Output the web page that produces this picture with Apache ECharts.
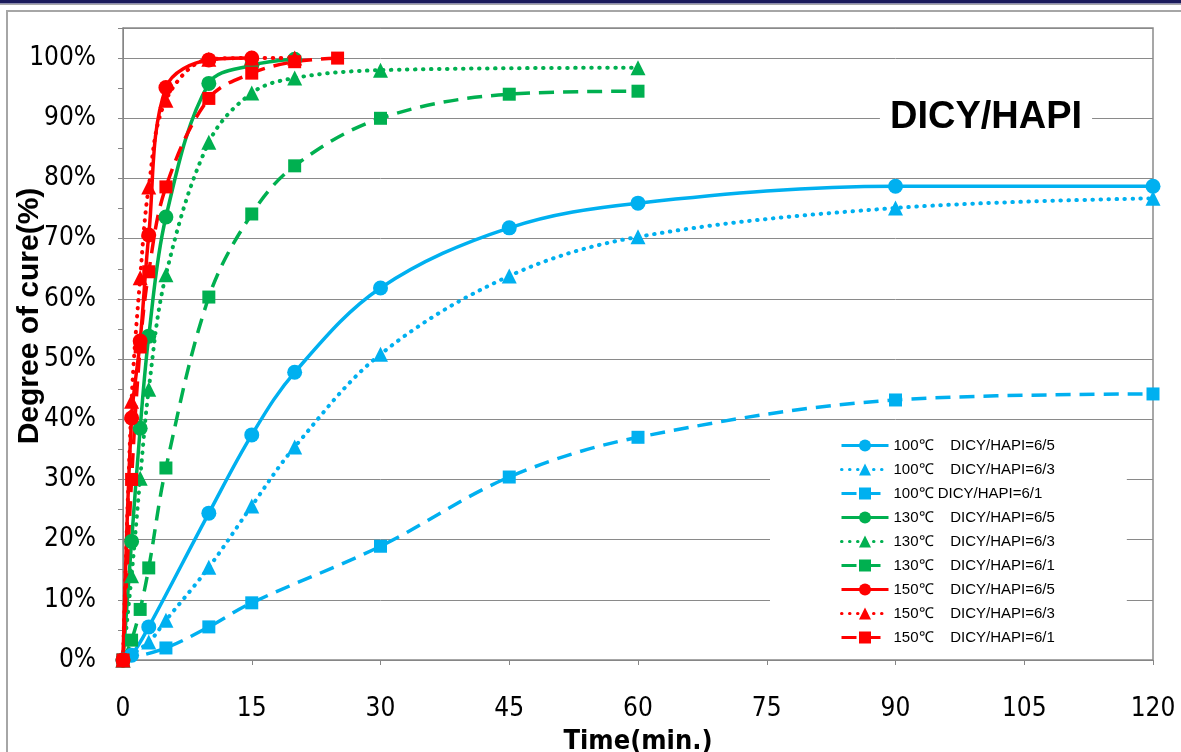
<!DOCTYPE html>
<html>
<head>
<meta charset="utf-8">
<script src="https://cdn.jsdelivr.net/npm/echarts@6/dist/echarts.min.js"></script>
<style>
  html, body { margin: 0; padding: 0; background: #fff; }
  #chart { width: 1181px; height: 752px; }
</style>
</head>
<body>
<div id="chart"></div>
<script>
// x ticks every 15 min, y ticks every 10 %
const xTicks = [0, 15, 30, 45, 60, 75, 90, 105, 120];

// 100 C
const t100a = [0, 1, 3, 10, 15, 20, 30, 45, 60, 90, 120];
const y100a = [0, 0.8, 5.5, 24.4, 37.4, 47.8, 61.8, 71.8, 75.9, 78.7, 78.7];
const t100b = [0, 3, 5, 10, 15, 20, 30, 45, 60, 90, 120];
const y100b = [0, 3, 6.6, 15.4, 25.6, 35.4, 50.8, 63.8, 70.3, 75.1, 76.7];
const t100c = [0, 5, 10, 15, 30, 45, 60, 90, 120];
const y100c = [0, 2, 5.5, 9.5, 18.9, 30.4, 37, 43.2, 44.2];

// 130 C
const t130a = [0, 1, 2, 3, 5, 10, 15, 20];
const y130a = [0, 19.7, 38.5, 53.8, 73.6, 95.8, 98.8, 99.8];
const t130b = [0, 1, 2, 3, 5, 10, 15, 20, 30, 60];
const y130b = [0, 14, 30.2, 45, 64, 86, 94.2, 96.7, 98, 98.4];
const t130c = [0, 1, 2, 3, 5, 10, 15, 20, 30, 45, 60];
const y130c = [0, 3.3, 8.4, 15.3, 31.9, 60.3, 74.1, 82.1, 90, 94, 94.5];

// 150 C
const t150a = [0, 1, 2, 3, 5, 10, 15];
const y150a = [0, 40.2, 53, 70.6, 95.1, 99.7, 100];
const t150b = [0, 1, 2, 3, 5, 10, 15, 20];
const y150b = [0, 43, 63.5, 78.6, 93, 99.8, 100, 100];
const t150c = [0, 1, 2, 3, 5, 10, 15, 20, 25];
const y150c = [0, 30, 52, 64.5, 78.6, 93.3, 97.5, 99.4, 100];

const names = [
  "100\u2103    DICY/HAPI=6/5",
  "100\u2103    DICY/HAPI=6/3",
  "100\u2103 DICY/HAPI=6/1",
  "130\u2103    DICY/HAPI=6/5",
  "130\u2103    DICY/HAPI=6/3",
  "130\u2103    DICY/HAPI=6/1",
  "150\u2103    DICY/HAPI=6/5",
  "150\u2103    DICY/HAPI=6/3",
  "150\u2103    DICY/HAPI=6/1"
];

const BLUE = "#00b0f0", GREEN = "#00b050", RED = "#ff0000";
const tickFont = '"Liberation Sans Narrow", "DejaVu Sans Condensed", "Liberation Sans", sans-serif';

const pairs = (t, y) => t.map((v, i) => [v, y[i]]);

const styles = {
  solid: { type: "solid", width: 3.5 },
  dot: { type: [0.5, 7.5], width: 4, cap: "round" },
  dash: { type: [15, 9], width: 3.5 }
};

function makeSeries(name, t, y, color, symbol, size, kind) {
  return {
    name: name,
    type: "line",
    smooth: 0.35,
    data: pairs(t, y),
    symbol: symbol,
    symbolSize: size,
    showAllSymbol: true,
    itemStyle: { color: color },
    lineStyle: Object.assign({ color: color }, styles[kind]),
    emphasis: { disabled: true }
  };
}

const series = [
  makeSeries(names[0], t100a, y100a, BLUE, "circle", 15, "solid"),
  makeSeries(names[1], t100b, y100b, BLUE, "triangle", 15, "dot"),
  makeSeries(names[2], t100c, y100c, BLUE, "rect", 13, "dash"),
  makeSeries(names[3], t130a, y130a, GREEN, "circle", 15, "solid"),
  makeSeries(names[4], t130b, y130b, GREEN, "triangle", 15, "dot"),
  makeSeries(names[5], t130c, y130c, GREEN, "rect", 13, "dash"),
  makeSeries(names[6], t150a, y150a, RED, "circle", 15, "solid"),
  makeSeries(names[7], t150b, y150b, RED, "triangle", 15, "dot"),
  makeSeries(names[8], t150c, y150c, RED, "rect", 13, "dash")
];

const chart = echarts.init(document.getElementById("chart"));
chart.setOption({
  animation: false,
  backgroundColor: "#ffffff",
  grid: {
    left: 123, right: 28, top: 28, bottom: 92,
    outerBoundsMode: "none",
    containLabel: false,
    show: true, borderColor: "#8a8a8a", borderWidth: 1.5
  },
  xAxis: {
    type: "value",
    min: xTicks[0],
    max: xTicks[xTicks.length - 1],
    interval: 15,
    name: "Time(min.)",
    nameLocation: "middle",
    nameGap: 68,
    nameTextStyle: { fontFamily: tickFont, fontWeight: "bold", fontSize: 27, color: "#000" },
    axisLine: { show: true, lineStyle: { color: "#868686", width: 1 } },
    axisTick: { show: true, inside: false, length: 5, lineStyle: { color: "#868686" } },
    axisLabel: { margin: 36, fontFamily: tickFont, fontSize: 26, color: "#000" },
    splitLine: { show: false }
  },
  yAxis: {
    type: "value",
    min: 0,
    max: 105,
    interval: 10,
    axisLine: { show: true, lineStyle: { color: "#868686", width: 1 } },
    axisTick: { show: true, inside: false, length: 5, lineStyle: { color: "#868686" } },
    minorTick: { show: true, splitNumber: 2, length: 5, lineStyle: { color: "#868686" } },
    axisLabel: {
      margin: 27, fontFamily: tickFont, fontSize: 26, color: "#000",
      formatter: (v) => (v <= 100 ? v + "%" : "")
    },
    splitLine: { show: true, lineStyle: { color: "#8a8a8a", width: 1 } }
  },
  legend: {
    orient: "vertical",
    left: 770,
    top: 425,
    padding: [13, 72, 10, 70],
    backgroundColor: "#ffffff",
    itemWidth: 47,
    itemHeight: 15,
    itemGap: 9,
    selectedMode: false,
    lineStyle: { width: 3 },
    textStyle: { fontFamily: '"Liberation Sans", sans-serif', fontSize: 15, lineHeight: 15, color: "#000" },
    data: names
  },
  graphic: [
    { type: "rect", shape: { x: 0, y: 0, width: 1181, height: 3.5 }, style: { fill: "#1c1c5c" }, silent: true },
    { type: "rect", shape: { x: 0, y: 4, width: 1181, height: 1 }, style: { fill: "#a8a8a8" }, silent: true },
    { type: "rect", shape: { x: 7, y: 11, width: 1200, height: 800 }, style: { fill: null, stroke: "#a6a6a6", lineWidth: 2 }, silent: true },
    {
      type: "text", x: 986, y: 118, z: 10,
      style: {
        text: "DICY/HAPI", fontFamily: '"Liberation Sans", sans-serif', fontWeight: "bold", fontSize: 38,
        fill: "#000", align: "center", verticalAlign: "middle",
        backgroundColor: "#ffffff", padding: [2, 10]
      }
    },
    {
      type: "text", x: 30, y: 316, rotation: Math.PI / 2, z: 10,
      style: {
        text: "Degree of cure(%)", fontFamily: '"Liberation Sans", sans-serif', fontWeight: "bold", fontSize: 30,
        fill: "#000", align: "center", verticalAlign: "middle"
      }
    }
  ],
  series: series
});
</script>
</body>
</html>
